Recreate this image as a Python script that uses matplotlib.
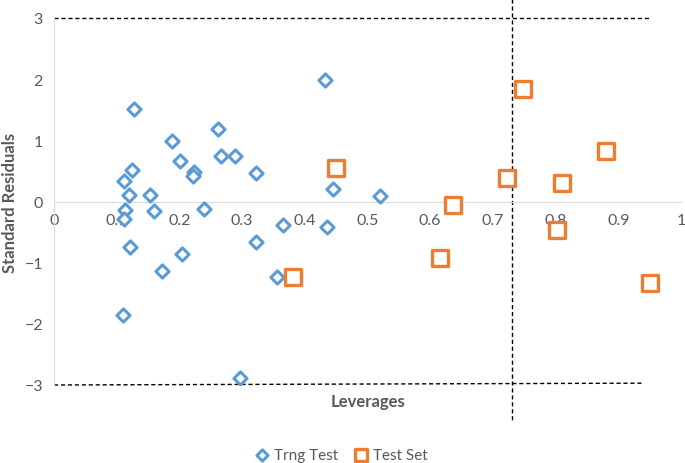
import matplotlib
matplotlib.use("Agg")
import matplotlib.pyplot as plt

# Williams plot data
trng_lev = [0.432, 0.128, 0.262, 0.188, 0.201, 0.266, 0.288, 0.125, 0.111, 0.224,
            0.221, 0.322, 0.119, 0.153, 0.113, 0.160, 0.239, 0.112, 0.445, 0.366,
            0.435, 0.520, 0.121, 0.204, 0.322, 0.173, 0.356, 0.110, 0.296]
trng_res = [1.98, 1.52, 1.18, 0.99, 0.66, 0.75, 0.75, 0.51, 0.34, 0.48,
            0.41, 0.47, 0.11, 0.11, -0.14, -0.15, -0.12, -0.29, 0.20, -0.39,
            -0.41, 0.09, -0.74, -0.86, -0.67, -1.14, -1.23, -1.85, -2.89]
test_lev = [0.450, 0.381, 0.748, 0.881, 0.722, 0.810, 0.637, 0.803, 0.616, 0.951]
test_res = [0.55, -1.24, 1.84, 0.82, 0.39, 0.31, -0.05, -0.47, -0.93, -1.33]

h_star = 0.73
x_ticks = [0, 0.1, 0.2, 0.3, 0.4, 0.5, 0.6, 0.7, 0.8, 0.9, 1]
y_ticks = [-3, -2, -1, 0, 1, 2, 3]

plt.rcParams["font.family"] = ["Lato", "DejaVu Sans"]
grey = "#595959"

fig = plt.figure(figsize=(6.85, 4.64), dpi=100)
ax = fig.add_axes([54 / 685, 1 - 386 / 464, 627 / 685, 367 / 464])

ax.scatter(trng_lev, trng_res, marker="D", s=45, facecolors="white",
           edgecolors="#5B9BD5", linewidths=2.2, label="Trng Test", zorder=3)
ax.scatter(test_lev, test_res, marker="s", s=120, facecolors="white",
           edgecolors="#ED7D31", linewidths=2.4, label="Test Set", zorder=3)

# limits (+/-3 residuals, h* leverage)
ax.plot([0, 0.952], [3, 3], ls=(0, (3, 2)), color="black", lw=1, clip_on=False)
ax.plot([0, 0.94], [-3.0, -2.97], ls=(0, (3, 2)), color="black", lw=1, clip_on=False)
ax.plot([h_star, h_star], [3.31, -3.6], ls=(0, (3, 2)), color="black", lw=1, clip_on=False)

ax.set_xlim(0, 1)
ax.set_ylim(-3, 3)
ax.set_xticks(x_ticks)
ax.set_xticklabels([f"{t:g}" for t in x_ticks])
ax.set_yticks(y_ticks)
for s in ["top", "right"]:
    ax.spines[s].set_visible(False)
ax.spines["bottom"].set_position(("data", 0))
ax.spines["bottom"].set_color("#D9D9D9")
ax.spines["left"].set_color("#D9D9D9")
ax.tick_params(axis="both", length=0, labelsize=11.5, labelcolor=grey)
ax.tick_params(axis="x", pad=8)
ax.tick_params(axis="y", pad=8)

fig.text(368 / 685, 1 - 402 / 464, "Leverages", ha="center", va="center",
         fontsize=12, fontweight="bold", color=grey)
fig.text(10 / 685, 1 - 203 / 464, "Standard Residuals", ha="center", va="center",
         rotation=90, fontsize=12, fontweight="bold", color=grey)

fig.legend(loc="center", bbox_to_anchor=(341 / 685, 1 - 456 / 464), ncol=2,
           frameon=False, fontsize=11, labelcolor=grey, handlelength=1.0,
           handletextpad=0.3, columnspacing=1.0, markerscale=0.85)

fig.savefig("out.png", dpi=100)
